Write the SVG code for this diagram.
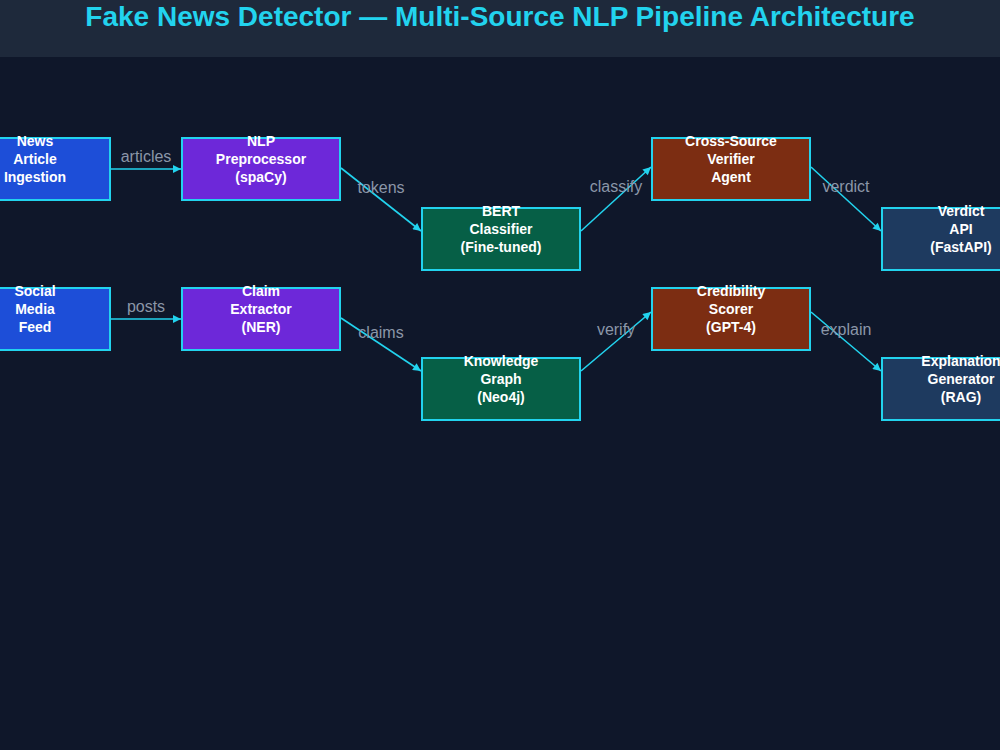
<svg xmlns="http://www.w3.org/2000/svg" width="1000" height="750" viewBox="0 0 1000 750">
<defs>
<style>
.bg{fill:#0f172a}
.hdr{fill:#1e293b}
.title{font-family:"Liberation Sans",Arial,sans-serif;font-weight:bold;font-size:28px;fill:#22d3ee;text-anchor:middle}
.box{stroke:#22d3ee;stroke-width:2}
.src{fill:#1d4ed8}
.nlp{fill:#6d28d9}
.ml{fill:#065f46}
.agent{fill:#7c2d12}
.out{fill:#1e3a5f}
.nt{font-family:"Liberation Sans",Arial,sans-serif;font-weight:bold;font-size:14px;fill:#ffffff;text-anchor:middle}
.edge{stroke:#22d3ee;stroke-width:1.6;fill:none}
.lbl{font-family:"Liberation Sans",Arial,sans-serif;font-size:16px;fill:#8b96a8;text-anchor:middle}
</style>
<marker id="arr" viewBox="0 0 10 10" refX="10" refY="5" markerWidth="10" markerHeight="8" markerUnits="userSpaceOnUse" orient="auto">
<path d="M0,0 L10,5 L0,10 z" fill="#22d3ee"/>
</marker>
</defs>
<rect class="bg" x="0" y="0" width="1000" height="750"/>
<rect class="hdr" x="0" y="0" width="1000" height="57"/>
<text class="title" x="500" y="26">Fake News Detector — Multi-Source NLP Pipeline Architecture</text>

<g id="connectors">
<line class="edge" x1="111" y1="169" x2="181" y2="169" marker-end="url(#arr)"/>
<line class="edge" x1="341" y1="168" x2="421" y2="231" marker-end="url(#arr)"/>
<line class="edge" x1="581" y1="231" x2="651" y2="167" marker-end="url(#arr)"/>
<line class="edge" x1="811" y1="167" x2="881" y2="231" marker-end="url(#arr)"/>
<line class="edge" x1="111" y1="319" x2="181" y2="319" marker-end="url(#arr)"/>
<line class="edge" x1="341" y1="318" x2="421" y2="371" marker-end="url(#arr)"/>
<line class="edge" x1="581" y1="371" x2="651" y2="312" marker-end="url(#arr)"/>
<line class="edge" x1="811" y1="312" x2="881" y2="371" marker-end="url(#arr)"/>
<text class="lbl" x="146" y="162">articles</text>
<text class="lbl" x="381" y="193">tokens</text>
<text class="lbl" x="616" y="192">classify</text>
<text class="lbl" x="846" y="192">verdict</text>
<text class="lbl" x="146" y="312">posts</text>
<text class="lbl" x="381" y="338">claims</text>
<text class="lbl" x="616" y="335">verify</text>
<text class="lbl" x="846" y="335">explain</text>
</g>

<g id="news">
<rect class="box src" x="-48" y="138" width="158" height="62"/>
<text class="nt" x="35" y="146">News</text>
<text class="nt" x="35" y="164">Article</text>
<text class="nt" x="35" y="182">Ingestion</text>
</g>
<g id="nlp">
<rect class="box nlp" x="182" y="138" width="158" height="62"/>
<text class="nt" x="261" y="146">NLP</text>
<text class="nt" x="261" y="164">Preprocessor</text>
<text class="nt" x="261" y="182">(spaCy)</text>
</g>
<g id="bert">
<rect class="box ml" x="422" y="208" width="158" height="62"/>
<text class="nt" x="501" y="216">BERT</text>
<text class="nt" x="501" y="234">Classifier</text>
<text class="nt" x="501" y="252">(Fine-tuned)</text>
</g>
<g id="verifier">
<rect class="box agent" x="652" y="138" width="158" height="62"/>
<text class="nt" x="731" y="146">Cross-Source</text>
<text class="nt" x="731" y="164">Verifier</text>
<text class="nt" x="731" y="182">Agent</text>
</g>
<g id="verdict">
<rect class="box out" x="882" y="208" width="158" height="62"/>
<text class="nt" x="961" y="216">Verdict</text>
<text class="nt" x="961" y="234">API</text>
<text class="nt" x="961" y="252">(FastAPI)</text>
</g>
<g id="social">
<rect class="box src" x="-48" y="288" width="158" height="62"/>
<text class="nt" x="35" y="296">Social</text>
<text class="nt" x="35" y="314">Media</text>
<text class="nt" x="35" y="332">Feed</text>
</g>
<g id="claim">
<rect class="box nlp" x="182" y="288" width="158" height="62"/>
<text class="nt" x="261" y="296">Claim</text>
<text class="nt" x="261" y="314">Extractor</text>
<text class="nt" x="261" y="332">(NER)</text>
</g>
<g id="kg">
<rect class="box ml" x="422" y="358" width="158" height="62"/>
<text class="nt" x="501" y="366">Knowledge</text>
<text class="nt" x="501" y="384">Graph</text>
<text class="nt" x="501" y="402">(Neo4j)</text>
</g>
<g id="cred">
<rect class="box agent" x="652" y="288" width="158" height="62"/>
<text class="nt" x="731" y="296">Credibility</text>
<text class="nt" x="731" y="314">Scorer</text>
<text class="nt" x="731" y="332">(GPT-4)</text>
</g>
<g id="explain">
<rect class="box out" x="882" y="358" width="158" height="62"/>
<text class="nt" x="961" y="366">Explanation</text>
<text class="nt" x="961" y="384">Generator</text>
<text class="nt" x="961" y="402">(RAG)</text>
</g>
</svg>
